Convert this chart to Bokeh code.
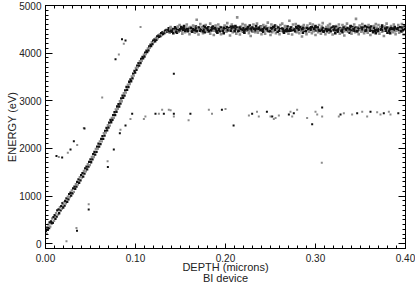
from bokeh.plotting import figure
from bokeh.models import (Range1d, LinearAxis, SingleIntervalTicker, FixedTicker,
                          PrintfTickFormatter)
from bokeh.embed import file_html
from bokeh.resources import INLINE

# ---------------- data ----------------
x_ticks = [0.0, 0.1, 0.2, 0.3, 0.4]
y_ticks = [0, 1000, 2000, 3000, 4000, 5000]

# rising part of the main band
ramp_depth = [
    0.0004, 0.0012, 0.0019, 0.0025, 0.0033, 0.0040, 0.0046, 0.0053,
    0.0061, 0.0068, 0.0074, 0.0081, 0.0089, 0.0095, 0.0102, 0.0110,
    0.0117, 0.0124, 0.0131, 0.0139, 0.0146, 0.0152, 0.0160, 0.0168,
    0.0175, 0.0181, 0.0189, 0.0197, 0.0204, 0.0212, 0.0219, 0.0226,
    0.0233, 0.0241, 0.0248, 0.0255, 0.0263, 0.0270, 0.0278, 0.0285,
    0.0292, 0.0300, 0.0307, 0.0315, 0.0322, 0.0330, 0.0337, 0.0344,
    0.0352, 0.0359, 0.0367, 0.0374, 0.0381, 0.0389, 0.0396, 0.0404,
    0.0411, 0.0419, 0.0426, 0.0433, 0.0441, 0.0448, 0.0456, 0.0463,
    0.0470, 0.0478, 0.0485, 0.0493, 0.0500, 0.0507, 0.0515, 0.0522,
    0.0530, 0.0537, 0.0544, 0.0552, 0.0559, 0.0567, 0.0574, 0.0581,
    0.0589, 0.0596, 0.0604, 0.0611, 0.0619, 0.0626, 0.0633, 0.0641,
    0.0648, 0.0656, 0.0663, 0.0670, 0.0678, 0.0685, 0.0693, 0.0700,
    0.0707, 0.0715, 0.0722, 0.0730, 0.0737, 0.0744, 0.0752, 0.0759,
    0.0767, 0.0774, 0.0781, 0.0789, 0.0796, 0.0804, 0.0811, 0.0819,
    0.0826, 0.0833, 0.0841, 0.0848, 0.0856, 0.0863, 0.0870, 0.0878,
    0.0885, 0.0893, 0.0900, 0.0907, 0.0915, 0.0922, 0.0930, 0.0937,
    0.0944, 0.0952, 0.0959, 0.0967, 0.0974, 0.0981, 0.0989, 0.0996,
    0.1004, 0.1011, 0.1019, 0.1026, 0.1033, 0.1041, 0.1048, 0.1056,
    0.1063, 0.1070, 0.1078, 0.1085, 0.1093, 0.1100, 0.1107, 0.1115,
    0.1122, 0.1130, 0.1137, 0.1144, 0.1152, 0.1159, 0.1167, 0.1174,
    0.1181, 0.1189, 0.1196, 0.1204, 0.1211, 0.1219, 0.1226, 0.1233,
    0.1241, 0.1248, 0.1256, 0.1263, 0.1270, 0.1278, 0.1285, 0.1293,
    0.1300, 0.1307, 0.1315, 0.1322, 0.1330, 0.1337, 0.1344, 0.1352,
]
ramp_energy = [
    270, 210, 340, 290, 400, 330, 450, 360,
    470, 430, 530, 440, 560, 480, 600, 520,
    640, 570, 700, 610, 720, 640, 770, 700,
    790, 730, 850, 760, 870, 800, 900, 850,
    950, 880, 990, 930, 1040, 980, 1070, 1010,
    1120, 1060, 1160, 1090, 1200, 1150, 1250, 1200,
    1300, 1240, 1350, 1280, 1400, 1330, 1440, 1390,
    1480, 1410, 1530, 1470, 1580, 1520, 1620, 1560,
    1670, 1620, 1720, 1650, 1770, 1710, 1820, 1770,
    1880, 1820, 1930, 1870, 1990, 1930, 2040, 1990,
    2100, 2040, 2150, 2090, 2200, 2150, 2260, 2200,
    2320, 2270, 2370, 2330, 2430, 2380, 2490, 2440,
    2540, 2480, 2600, 2550, 2640, 2600, 2700, 2640,
    2760, 2700, 2820, 2770, 2880, 2830, 2930, 2880,
    2990, 2940, 3050, 2990, 3110, 3060, 3160, 3110,
    3220, 3170, 3290, 3230, 3340, 3290, 3400, 3350,
    3450, 3410, 3510, 3470, 3570, 3530, 3630, 3590,
    3690, 3650, 3740, 3700, 3790, 3740, 3830, 3790,
    3880, 3840, 3920, 3890, 3970, 3930, 4010, 3980,
    4050, 4020, 4100, 4060, 4140, 4110, 4180, 4150,
    4230, 4190, 4260, 4230, 4290, 4250, 4320, 4280,
    4350, 4310, 4370, 4340, 4400, 4360, 4420, 4380,
    4440, 4400, 4450, 4420, 4470, 4440, 4490, 4450,
]

# flat part of the main band (wide, speckled points)
plateau_depth = [
    0.136, 0.137, 0.138, 0.139, 0.139, 0.140, 0.141, 0.142, 0.143, 0.144,
    0.145, 0.146, 0.147, 0.147, 0.148, 0.149, 0.150, 0.151, 0.152, 0.153,
    0.154, 0.154, 0.155, 0.156, 0.157, 0.158, 0.159, 0.160, 0.161, 0.162,
    0.162, 0.163, 0.164, 0.165, 0.166, 0.167, 0.168, 0.168, 0.169, 0.170,
    0.171, 0.172, 0.173, 0.174, 0.175, 0.176, 0.176, 0.177, 0.178, 0.179,
    0.180, 0.181, 0.182, 0.183, 0.183, 0.184, 0.185, 0.186, 0.187, 0.188,
    0.189, 0.190, 0.191, 0.191, 0.192, 0.193, 0.194, 0.195, 0.196, 0.197,
    0.198, 0.198, 0.199, 0.200, 0.201, 0.202, 0.203, 0.204, 0.205, 0.206,
    0.206, 0.207, 0.208, 0.209, 0.210, 0.211, 0.212, 0.212, 0.213, 0.214,
    0.215, 0.216, 0.217, 0.218, 0.219, 0.220, 0.220, 0.221, 0.222, 0.223,
    0.224, 0.225, 0.226, 0.227, 0.227, 0.228, 0.229, 0.230, 0.231, 0.232,
    0.233, 0.234, 0.235, 0.235, 0.236, 0.237, 0.238, 0.239, 0.240, 0.241,
    0.242, 0.242, 0.243, 0.244, 0.245, 0.246, 0.247, 0.248, 0.249, 0.250,
    0.250, 0.251, 0.252, 0.253, 0.254, 0.255, 0.256, 0.256, 0.257, 0.258,
    0.259, 0.260, 0.261, 0.262, 0.263, 0.264, 0.264, 0.265, 0.266, 0.267,
    0.268, 0.269, 0.270, 0.271, 0.271, 0.272, 0.273, 0.274, 0.275, 0.276,
    0.277, 0.278, 0.279, 0.279, 0.280, 0.281, 0.282, 0.283, 0.284, 0.285,
    0.286, 0.286, 0.287, 0.288, 0.289, 0.290, 0.291, 0.292, 0.293, 0.294,
    0.294, 0.295, 0.296, 0.297, 0.298, 0.299, 0.300, 0.300, 0.301, 0.302,
    0.303, 0.304, 0.305, 0.306, 0.307, 0.308, 0.308, 0.309, 0.310, 0.311,
    0.312, 0.313, 0.314, 0.315, 0.315, 0.316, 0.317, 0.318, 0.319, 0.320,
    0.321, 0.322, 0.323, 0.323, 0.324, 0.325, 0.326, 0.327, 0.328, 0.329,
    0.330, 0.330, 0.331, 0.332, 0.333, 0.334, 0.335, 0.336, 0.337, 0.338,
    0.338, 0.339, 0.340, 0.341, 0.342, 0.343, 0.344, 0.344, 0.345, 0.346,
    0.347, 0.348, 0.349, 0.350, 0.351, 0.352, 0.352, 0.353, 0.354, 0.355,
    0.356, 0.357, 0.358, 0.359, 0.359, 0.360, 0.361, 0.362, 0.363, 0.364,
    0.365, 0.366, 0.367, 0.367, 0.368, 0.369, 0.370, 0.371, 0.372, 0.373,
    0.374, 0.374, 0.375, 0.376, 0.377, 0.378, 0.379, 0.380, 0.381, 0.382,
    0.382, 0.383, 0.384, 0.385, 0.386, 0.387, 0.388, 0.388, 0.389, 0.390,
    0.391, 0.392, 0.393, 0.394, 0.395, 0.396, 0.396, 0.397, 0.398, 0.399,
]
plateau_energy = [
    4470, 4520, 4430, 4490, 4550, 4460, 4510, 4420, 4500, 4540,
    4480, 4430, 4560, 4500, 4450, 4590, 4470, 4520, 4410, 4530,
    4490, 4570, 4440, 4510, 4600, 4460, 4530, 4400, 4550, 4480,
    4520, 4450, 4580, 4490, 4430, 4560, 4700, 4470, 4540, 4390,
    4500, 4610, 4460, 4530, 4420, 4570, 4490, 4440, 4590, 4510,
    4450, 4540, 4480, 4620, 4410, 4520, 4470, 4560, 4380, 4500,
    4580, 4460, 4530, 4430, 4600, 4490, 4550, 4400, 4510, 4470,
    4540, 4420, 4580, 4500, 4450, 4630, 4480, 4520, 4370, 4560,
    4490, 4600, 4440, 4530, 4470, 4570, 4410, 4510, 4750, 4460,
    4530, 4390, 4560, 4480, 4610, 4450, 4520, 4430, 4590, 4500,
    4470, 4550, 4420, 4580, 4490, 4360, 4540, 4460, 4600, 4510,
    4440, 4570, 4490, 4620, 4430, 4530, 4470, 4560, 4400, 4500,
    4590, 4450, 4520, 4410, 4570, 4480, 4640, 4460, 4530, 4380,
    4510, 4600, 4440, 4550, 4470, 4580, 4420, 4500, 4560, 4450,
    4530, 4400, 4590, 4480, 4620, 4460, 4510, 4430, 4570, 4490,
    4450, 4560, 4410, 4530, 4680, 4470, 4540, 4390, 4600, 4500,
    4480, 4610, 4440, 4520, 4460, 4570, 4420, 4550, 4490, 4350,
    4560, 4430, 4590, 4470, 4530, 4400, 4580, 4510, 4450, 4620,
    4490, 4540, 4420, 4600, 4460, 4520, 4380, 4570, 4480, 4530,
    4440, 4590, 4500, 4410, 4560, 4470, 4630, 4450, 4510, 4400,
    4550, 4460, 4580, 4490, 4430, 4610, 4470, 4530, 4390, 4560,
    4500, 4420, 4570, 4480, 4540, 4450, 4600, 4410, 4520, 4470,
    4590, 4440, 4530, 4370, 4560, 4490, 4620, 4460, 4510, 4430,
    4480, 4570, 4410, 4550, 4470, 4600, 4440, 4520, 4720, 4460,
    4540, 4400, 4580, 4490, 4450, 4610, 4470, 4530, 4420, 4570,
    4460, 4550, 4430, 4590, 4480, 4520, 4380, 4560, 4500, 4440,
    4570, 4470, 4610, 4420, 4530, 4460, 4590, 4410, 4540, 4490,
    4450, 4580, 4490, 4360, 4560, 4470, 4620, 4430, 4520, 4480,
    4530, 4420, 4570, 4500, 4440, 4600, 4460, 4550, 4400, 4510,
    4480, 4590, 4430, 4540, 4470, 4610, 4450, 4520, 4390, 4560,
]

# flat part of the main band (dense core points)
core_depth = [
    0.1365, 0.1376, 0.1387, 0.1398, 0.1409, 0.1420, 0.1431, 0.1442, 0.1453, 0.1464,
    0.1475, 0.1486, 0.1497, 0.1508, 0.1519, 0.1530, 0.1541, 0.1552, 0.1563, 0.1574,
    0.1585, 0.1596, 0.1607, 0.1618, 0.1629, 0.1640, 0.1651, 0.1662, 0.1673, 0.1684,
    0.1695, 0.1706, 0.1717, 0.1728, 0.1739, 0.1750, 0.1761, 0.1772, 0.1783, 0.1794,
    0.1805, 0.1816, 0.1827, 0.1838, 0.1849, 0.1860, 0.1871, 0.1882, 0.1893, 0.1904,
    0.1915, 0.1926, 0.1937, 0.1948, 0.1959, 0.1970, 0.1981, 0.1992, 0.2003, 0.2014,
    0.2025, 0.2036, 0.2047, 0.2058, 0.2069, 0.2080, 0.2091, 0.2102, 0.2113, 0.2124,
    0.2135, 0.2146, 0.2157, 0.2168, 0.2179, 0.2190, 0.2201, 0.2212, 0.2223, 0.2234,
    0.2245, 0.2256, 0.2267, 0.2278, 0.2289, 0.2300, 0.2311, 0.2322, 0.2333, 0.2344,
    0.2355, 0.2366, 0.2377, 0.2388, 0.2399, 0.2410, 0.2421, 0.2432, 0.2443, 0.2454,
    0.2465, 0.2476, 0.2487, 0.2498, 0.2509, 0.2520, 0.2531, 0.2542, 0.2553, 0.2564,
    0.2575, 0.2586, 0.2597, 0.2608, 0.2619, 0.2630, 0.2641, 0.2652, 0.2663, 0.2674,
    0.2685, 0.2696, 0.2707, 0.2718, 0.2729, 0.2740, 0.2751, 0.2762, 0.2773, 0.2784,
    0.2795, 0.2806, 0.2817, 0.2828, 0.2839, 0.2850, 0.2861, 0.2872, 0.2883, 0.2894,
    0.2905, 0.2916, 0.2927, 0.2938, 0.2949, 0.2960, 0.2971, 0.2982, 0.2993, 0.3004,
    0.3015, 0.3026, 0.3037, 0.3048, 0.3059, 0.3070, 0.3081, 0.3092, 0.3103, 0.3114,
    0.3125, 0.3136, 0.3147, 0.3158, 0.3169, 0.3180, 0.3191, 0.3202, 0.3213, 0.3224,
    0.3235, 0.3246, 0.3257, 0.3268, 0.3279, 0.3290, 0.3301, 0.3312, 0.3323, 0.3334,
    0.3345, 0.3356, 0.3367, 0.3378, 0.3389, 0.3400, 0.3411, 0.3422, 0.3433, 0.3444,
    0.3455, 0.3466, 0.3477, 0.3488, 0.3499, 0.3510, 0.3521, 0.3532, 0.3543, 0.3554,
    0.3565, 0.3576, 0.3587, 0.3598, 0.3609, 0.3620, 0.3631, 0.3642, 0.3653, 0.3664,
    0.3675, 0.3686, 0.3697, 0.3708, 0.3719, 0.3730, 0.3741, 0.3752, 0.3763, 0.3774,
    0.3785, 0.3796, 0.3807, 0.3818, 0.3829, 0.3840, 0.3851, 0.3862, 0.3873, 0.3884,
    0.3895, 0.3906, 0.3917, 0.3928, 0.3939, 0.3950, 0.3961, 0.3972, 0.3983, 0.3994,
]
core_energy = [
    4480, 4460, 4500, 4470, 4450, 4500, 4470, 4520, 4450, 4510,
    4530, 4480, 4500, 4550, 4460, 4490, 4520, 4470, 4540, 4500,
    4470, 4510, 4490, 4530, 4450, 4500, 4560, 4480, 4520, 4460,
    4510, 4540, 4470, 4500, 4530, 4460, 4490, 4550, 4480, 4520,
    4490, 4460, 4520, 4480, 4540, 4500, 4470, 4530, 4510, 4450,
    4520, 4500, 4460, 4540, 4490, 4470, 4530, 4510, 4480, 4550,
    4480, 4530, 4500, 4470, 4520, 4560, 4490, 4460, 4510, 4540,
    4500, 4470, 4540, 4510, 4460, 4490, 4530, 4480, 4550, 4500,
    4530, 4490, 4470, 4520, 4500, 4540, 4460, 4510, 4480, 4520,
    4460, 4510, 4530, 4490, 4550, 4470, 4500, 4540, 4480, 4510,
    4520, 4480, 4500, 4460, 4530, 4510, 4470, 4550, 4490, 4500,
    4490, 4540, 4470, 4510, 4480, 4520, 4500, 4460, 4530, 4470,
    4510, 4470, 4530, 4500, 4540, 4480, 4520, 4490, 4460, 4550,
    4480, 4520, 4490, 4540, 4470, 4500, 4530, 4510, 4490, 4460,
    4530, 4500, 4460, 4520, 4490, 4550, 4470, 4510, 4540, 4480,
    4500, 4540, 4480, 4470, 4520, 4490, 4530, 4460, 4510, 4500,
    4470, 4510, 4540, 4490, 4460, 4530, 4500, 4480, 4520, 4550,
    4520, 4480, 4500, 4530, 4510, 4470, 4490, 4540, 4460, 4510,
    4490, 4530, 4470, 4500, 4550, 4480, 4520, 4500, 4470, 4540,
    4510, 4460, 4520, 4490, 4480, 4540, 4500, 4530, 4510, 4470,
    4480, 4520, 4500, 4540, 4470, 4490, 4510, 4460, 4530, 4500,
    4530, 4490, 4470, 4510, 4520, 4500, 4550, 4480, 4490, 4520,
    4500, 4540, 4480, 4470, 4510, 4530, 4460, 4520, 4500, 4490,
    4470, 4510, 4530, 4490, 4500, 4460, 4540, 4480, 4520, 4500,
]

# sparse secondary band near 2700 eV
mid_depth = [
    0.0963, 0.1093, 0.1110, 0.1222, 0.1260, 0.1296, 0.1315, 0.1370, 0.1390, 0.1426,
    0.1426, 0.1590, 0.1610, 0.1815, 0.1850, 0.1960, 0.2000, 0.2260, 0.2296, 0.2350,
    0.2370, 0.2460, 0.2500, 0.2537, 0.2519, 0.2556, 0.2593, 0.2704, 0.2722, 0.2741,
    0.2759, 0.2796, 0.2907, 0.2963, 0.3000, 0.3019, 0.3074, 0.3074, 0.3259, 0.3278,
    0.3315, 0.3407, 0.3463, 0.3519, 0.3574, 0.3611, 0.3685, 0.3722, 0.3759, 0.3815,
    0.3833, 0.3920,
]
mid_energy = [
    2730, 2620, 2670, 2730, 2730, 2810, 2730, 2810, 2800, 2730,
    2670, 2590, 2730, 2810, 2730, 2810, 2830, 2690, 2730, 2770,
    2670, 2770, 2670, 2620, 2670, 2640, 2690, 2710, 2770, 2670,
    2740, 2810, 2640, 2510, 2770, 2710, 2860, 2670, 2670, 2710,
    2740, 2710, 2740, 2770, 2670, 2770, 2760, 2710, 2740, 2770,
    2710, 2740,
]

# scattered stray points
stray_depth = [
    0.0122, 0.0148, 0.0185, 0.0248, 0.0278, 0.0352, 0.0315, 0.0426, 0.0433, 0.0630,
    0.0778, 0.0815, 0.0850, 0.0870, 0.0889, 0.1056, 0.0759, 0.0690, 0.0693, 0.0480,
    0.0480, 0.0344, 0.0350, 0.0233, 0.1426, 0.3070, 0.0889, 0.0833, 0.0826, 0.0944,
    0.2090,
]
stray_energy = [
    1840, 1820, 1810, 1910, 1980, 2070, 2150, 2430, 2420, 3070,
    3870, 3970, 4290, 4195, 4265, 4550, 1980, 1730, 1610, 830,
    720, 330, 270, 50, 3570, 1700, 2480, 2390, 2320, 2620,
    2480,
]

# ---------------- figure ----------------
FONT = "Liberation Sans"
DARK = "#111111"
GREY = "#8c8c8c"
TXT = "#222222"

p = figure(width=415, height=286, output_backend="svg", toolbar_location=None,
           x_range=Range1d(0.0, 0.4), y_range=Range1d(-100, 5000),
           x_axis_location=None, y_axis_location=None,
           min_border_left=45, min_border_right=10,
           min_border_top=5, min_border_bottom=38)
p.outline_line_color = None
p.xgrid.visible = False
p.ygrid.visible = False
p.background_fill_color = "white"
p.border_fill_color = "white"


def base_axis(ax, line=True):
    ax.axis_line_color = "black" if line else None
    ax.major_tick_line_color = "black"
    ax.minor_tick_line_color = "black"
    ax.major_tick_out = 0
    ax.minor_tick_out = 0
    ax.major_label_text_font = FONT
    ax.major_label_text_font_size = "10px"
    ax.major_label_text_color = TXT
    ax.axis_label_text_font = FONT
    ax.axis_label_text_font_size = "11px"
    ax.axis_label_text_font_style = "normal"
    ax.axis_label_text_color = TXT
    return ax


# labelled axes
bottom = base_axis(LinearAxis(ticker=SingleIntervalTicker(interval=0.1, num_minor_ticks=10),
                              formatter=PrintfTickFormatter(format="%.2f")))
bottom.major_tick_in = 5
bottom.minor_tick_in = 3
bottom.major_label_standoff = 5
bottom.axis_label = "DEPTH (microns)"
bottom.axis_label_standoff = -4
sub = base_axis(LinearAxis(ticker=FixedTicker(ticks=[], minor_ticks=[])), line=False)
sub.major_label_standoff = 0
sub.axis_label = "BI device"
sub.axis_label_standoff = -4

left = base_axis(LinearAxis(ticker=SingleIntervalTicker(interval=1000, num_minor_ticks=10),
                            formatter=PrintfTickFormatter(format="%d")))
left.major_tick_in = 7
left.minor_tick_in = 3
left.major_label_standoff = 4
left.axis_label = "ENERGY (eV)"
left.axis_label_standoff = -2
p.add_layout(bottom, "below")
p.add_layout(sub, "below")
p.add_layout(left, "left")

# mirrored, label-free axes (ticks only, drawn as minor ticks)
x_minor = [i / 100 for i in range(41)]
y_minor = [i * 100 for i in range(-1, 51)]
for side, minor, major, mlen, Mlen in [("above", x_minor, x_ticks, 3, 5),
                                       ("right", y_minor, y_ticks, 3, 7)]:
    a1 = base_axis(LinearAxis(ticker=FixedTicker(ticks=[], minor_ticks=minor)))
    a1.minor_tick_in = mlen
    a1.major_label_standoff = 0
    a2 = base_axis(LinearAxis(ticker=FixedTicker(ticks=[], minor_ticks=major)), line=False)
    a2.minor_tick_in = Mlen
    a2.major_label_standoff = 0
    p.add_layout(a1, side)
    p.add_layout(a2, side)

# points
plateau_colors = [GREY if (abs(e - 4500) > 80 or i % 2 == 0) else DARK
                  for i, e in enumerate(plateau_energy)]
core_colors = [GREY if i % 4 == 2 else DARK for i in range(len(core_energy))]
ramp_colors = [GREY if i % 3 == 1 else DARK for i in range(len(ramp_energy))]
mid_colors = [DARK if i % 3 == 0 else GREY for i in range(len(mid_energy))]
stray_colors = [DARK if i % 2 == 0 else GREY for i in range(len(stray_energy))]

p.scatter(ramp_depth, ramp_energy, marker="square", size=2.3,
          fill_color=ramp_colors, line_color=None)
p.scatter(plateau_depth, plateau_energy, marker="square", size=2.6,
          fill_color=plateau_colors, line_color=None)
p.scatter(core_depth, core_energy, marker="square", size=2.4,
          fill_color=core_colors, line_color=None)
p.scatter(mid_depth, mid_energy, marker="square", size=2,
          fill_color=mid_colors, line_color=None)
p.scatter(stray_depth, stray_energy, marker="square", size=2,
          fill_color=stray_colors, line_color=None)

open("out.html", "w").write(file_html(p, INLINE))
